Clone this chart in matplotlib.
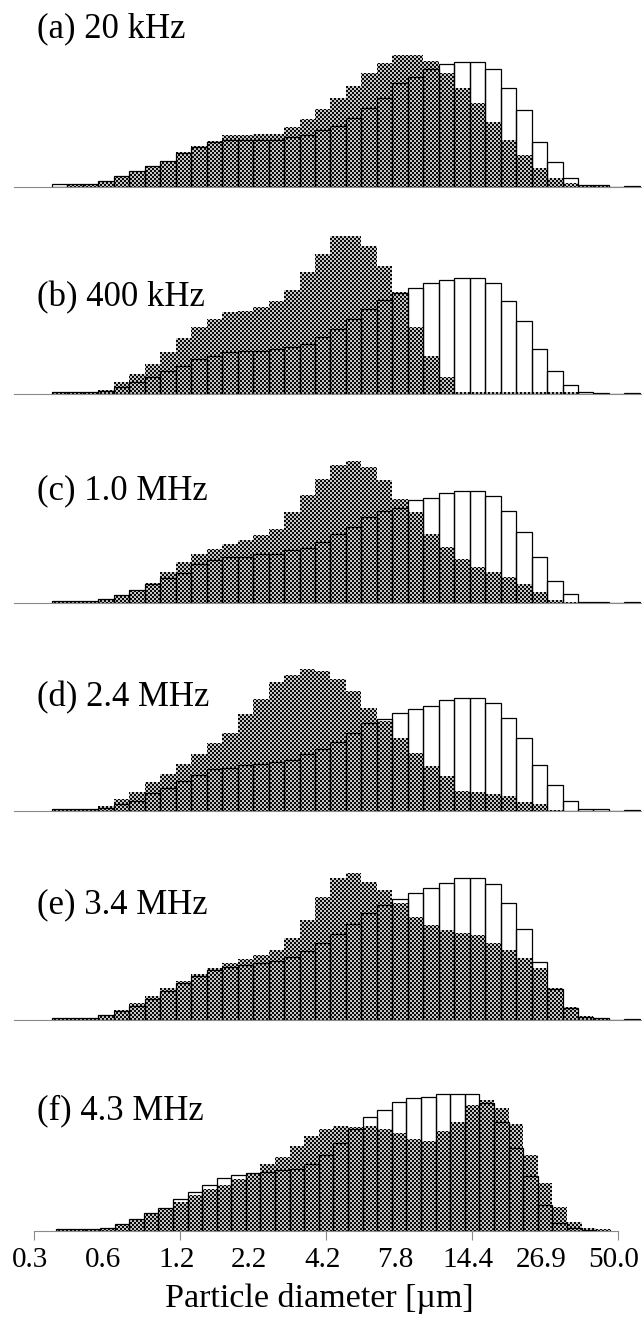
import numpy as np
import matplotlib.pyplot as plt
from matplotlib.transforms import ScaledTranslation

plt.rcParams['font.family'] = ['Liberation Serif', 'DejaVu Serif']

W, H, DPI = 642, 1322, 100

titles = ['(a) 20 kHz', '(b) 400 kHz', '(c) 1.0 MHz',
          '(d) 2.4 MHz', '(e) 3.4 MHz', '(f) 4.3 MHz']
tick_labels = ['0.3', '0.6', '1.2', '2.2', '4.2', '7.8', '14.4', '26.9', '50.0']
xlabel = 'Particle diameter [\u00b5m]'

# volume fraction [%] in each of the 38 size classes
# open bars = before irradiation, checkered area = after irradiation
open_a = [0.10, 0.08, 0.08, 0.17, 0.32, 0.47, 0.64, 0.79, 1.02, 1.20, 1.35, 1.40, 1.40,
          1.40, 1.40, 1.50, 1.56, 1.71, 1.83, 2.06, 2.36, 2.66, 3.11, 3.31, 3.53, 3.69,
          3.76, 3.76, 3.53, 2.98, 2.30, 1.35, 0.75, 0.28, 0.07, 0.05, 0.00, 0.04]
checked_a = [0.00, 0.09, 0.09, 0.16, 0.30, 0.47, 0.63, 0.79, 1.04, 1.23, 1.37, 1.55, 1.55,
             1.60, 1.60, 1.80, 2.03, 2.33, 2.66, 3.03, 3.41, 3.73, 3.96, 3.96, 3.79, 3.41,
             2.96, 2.51, 1.96, 1.40, 0.97, 0.57, 0.27, 0.12, 0.04, 0.07, 0.00, 0.04]

open_b = [0.05, 0.05, 0.05, 0.10, 0.20, 0.35, 0.50, 0.70, 0.85, 1.05, 1.15, 1.25, 1.28,
          1.30, 1.35, 1.40, 1.50, 1.72, 1.95, 2.25, 2.55, 2.82, 3.02, 3.18, 3.32, 3.42,
          3.48, 3.48, 3.32, 2.80, 2.18, 1.35, 0.70, 0.27, 0.05, 0.03, 0.00, 0.04]
checked_b = [0.05, 0.05, 0.05, 0.12, 0.35, 0.60, 0.90, 1.25, 1.68, 2.00, 2.25, 2.45, 2.50,
             2.62, 2.80, 3.12, 3.67, 4.20, 4.75, 4.75, 4.45, 3.85, 3.05, 2.00, 1.15, 0.50,
             0.05, 0.05, 0.05, 0.05, 0.05, 0.05, 0.05, 0.05, 0.00, 0.00, 0.00, 0.00]

open_c = [0.05, 0.05, 0.05, 0.13, 0.23, 0.38, 0.56, 0.76, 0.90, 1.18, 1.28, 1.38, 1.38,
          1.46, 1.48, 1.60, 1.66, 1.83, 2.08, 2.28, 2.58, 2.76, 2.86, 3.08, 3.15, 3.30,
          3.36, 3.36, 3.20, 2.76, 2.13, 1.38, 0.66, 0.28, 0.04, 0.03, 0.00, 0.04]
checked_c = [0.05, 0.05, 0.05, 0.13, 0.23, 0.38, 0.60, 0.93, 1.23, 1.48, 1.63, 1.78, 1.88,
             2.03, 2.23, 2.73, 3.23, 3.73, 4.13, 4.26, 4.08, 3.68, 3.13, 2.73, 2.08, 1.68,
             1.33, 1.08, 0.93, 0.78, 0.58, 0.33, 0.08, 0.03, 0.00, 0.00, 0.00, 0.00]

open_d = [0.07, 0.07, 0.07, 0.10, 0.20, 0.30, 0.53, 0.70, 0.90, 1.07, 1.25, 1.30, 1.37,
          1.40, 1.47, 1.53, 1.70, 1.87, 2.07, 2.33, 2.63, 2.77, 2.93, 3.07, 3.15, 3.32,
          3.40, 3.40, 3.25, 2.78, 2.18, 1.38, 0.78, 0.30, 0.07, 0.07, 0.00, 0.04]
checked_d = [0.05, 0.05, 0.05, 0.15, 0.35, 0.57, 0.88, 1.10, 1.40, 1.70, 2.03, 2.35, 2.90,
             3.35, 3.87, 4.07, 4.27, 4.20, 3.95, 3.60, 3.10, 2.70, 2.20, 1.75, 1.35, 1.05,
             0.60, 0.57, 0.50, 0.45, 0.27, 0.20, 0.03, 0.00, 0.00, 0.00, 0.00, 0.00]

open_e = [0.05, 0.05, 0.05, 0.14, 0.27, 0.43, 0.64, 0.88, 1.10, 1.32, 1.50, 1.60, 1.66,
          1.72, 1.78, 1.90, 2.08, 2.30, 2.58, 2.88, 3.20, 3.45, 3.62, 3.82, 3.95, 4.10,
          4.25, 4.25, 4.08, 3.50, 2.72, 1.75, 0.93, 0.37, 0.09, 0.05, 0.00, 0.04]
checked_e = [0.05, 0.05, 0.05, 0.15, 0.30, 0.50, 0.72, 0.95, 1.18, 1.38, 1.55, 1.70, 1.82,
             1.95, 2.10, 2.45, 3.00, 3.70, 4.25, 4.40, 4.15, 3.90, 3.50, 3.10, 2.85, 2.70,
             2.62, 2.55, 2.30, 2.10, 1.85, 1.55, 0.95, 0.40, 0.12, 0.05, 0.00, 0.00]

open_f = [0.05, 0.05, 0.05, 0.08, 0.20, 0.35, 0.53, 0.70, 0.95, 1.18, 1.37, 1.60, 1.67,
          1.75, 1.77, 1.83, 1.85, 2.00, 2.27, 2.65, 3.05, 3.43, 3.63, 3.88, 3.98, 4.03,
          4.11, 4.10, 4.10, 3.83, 3.28, 2.50, 1.65, 0.78, 0.25, 0.08, 0.03, 0.00]
checked_f = [0.05, 0.05, 0.05, 0.05, 0.20, 0.35, 0.50, 0.70, 0.88, 1.08, 1.25, 1.37, 1.55,
             1.75, 2.00, 2.23, 2.55, 2.85, 3.07, 3.15, 3.13, 3.15, 3.07, 2.95, 2.77, 2.70,
             3.00, 3.28, 3.78, 3.93, 3.68, 3.21, 2.28, 1.43, 0.73, 0.28, 0.08, 0.05]

panels = [(titles[0], open_a, checked_a), (titles[1], open_b, checked_b),
          (titles[2], open_c, checked_c), (titles[3], open_d, checked_d),
          (titles[4], open_e, checked_e), (titles[5], open_f, checked_f)]

# layout in pixels, rows counted from the top of the figure
baselines = [187, 394, 603, 811, 1020, 1231]
title_rows = [29, 298, 491, 698, 905, 1111]
panel_h = 170          # axes height in px
px_per_unit = 33.3     # vertical scale, px per %


def checkerboard(cell=2, dark=0.04, light=0.78):
    yy, xx = np.mgrid[0:H, 0:W]
    img = np.where((xx // cell + yy // cell) % 2 == 0, dark, light)
    return np.dstack([img, img, img])


fig = plt.figure(figsize=(W / DPI, H / DPI), dpi=DPI)
board = checkerboard()
edges = np.arange(len(open_a) + 1)

for i, (title, opened, checked) in enumerate(panels):
    last = i == len(panels) - 1
    base = baselines[i]
    if last:
        left, right = 34.3, 618.0
        xlim = (-1.5, 38.5)
    else:
        # upper panels are slightly wider and run off the right edge
        left, right = 14.0, 642.0
        xlim = ((left - 52) / 15.47, (right - 52) / 15.47)
    ax = fig.add_axes([left / W, 1 - base / H, (right - left) / W, panel_h / H])
    ax.patch.set_visible(False)
    ax.set_xlim(*xlim)
    ax.set_ylim(0, panel_h / px_per_unit)

    # checkered area: a pixel-aligned checkerboard clipped to the step outline
    step = ax.stairs(checked, edges, fill=True, baseline=0)
    step.set_visible(False)
    im = fig.figimage(board, origin='upper', zorder=-1)
    im.set_clip_path(step)

    ax.bar(edges[:-1], opened, width=1, align='edge', facecolor='none',
           edgecolor='black', linewidth=0.9, zorder=2)

    for side in ['top', 'left', 'right']:
        ax.spines[side].set_visible(False)
    ax.spines['bottom'].set_color('#8a8a8a')
    ax.spines['bottom'].set_linewidth(0.8)
    ax.spines['bottom'].set_zorder(3)
    ax.set_yticks([])

    if last:
        ax.set_xticks(np.arange(len(tick_labels)) * 5 - 1.5, tick_labels)
        ax.tick_params(axis='x', direction='out', length=6.5, width=0.8,
                       color='#8a8a8a', labelsize=21, pad=5)
        for t in ax.xaxis.get_major_ticks()[1::2]:
            t.tick1line.set_visible(False)
        shift = ScaledTranslation(-4 / DPI, 0, fig.dpi_scale_trans)
        for lab in ax.get_xticklabels():
            lab.set_transform(lab.get_transform() + shift)
    else:
        ax.set_xticks([])

    fig.text(37 / W, 1 - title_rows[i] / H, title, fontsize=25,
             ha='left', va='center')

fig.text(319 / W, 1 - 1299 / H, xlabel, fontsize=24.5, ha='center', va='center')

fig.savefig('out.png', dpi=DPI)
